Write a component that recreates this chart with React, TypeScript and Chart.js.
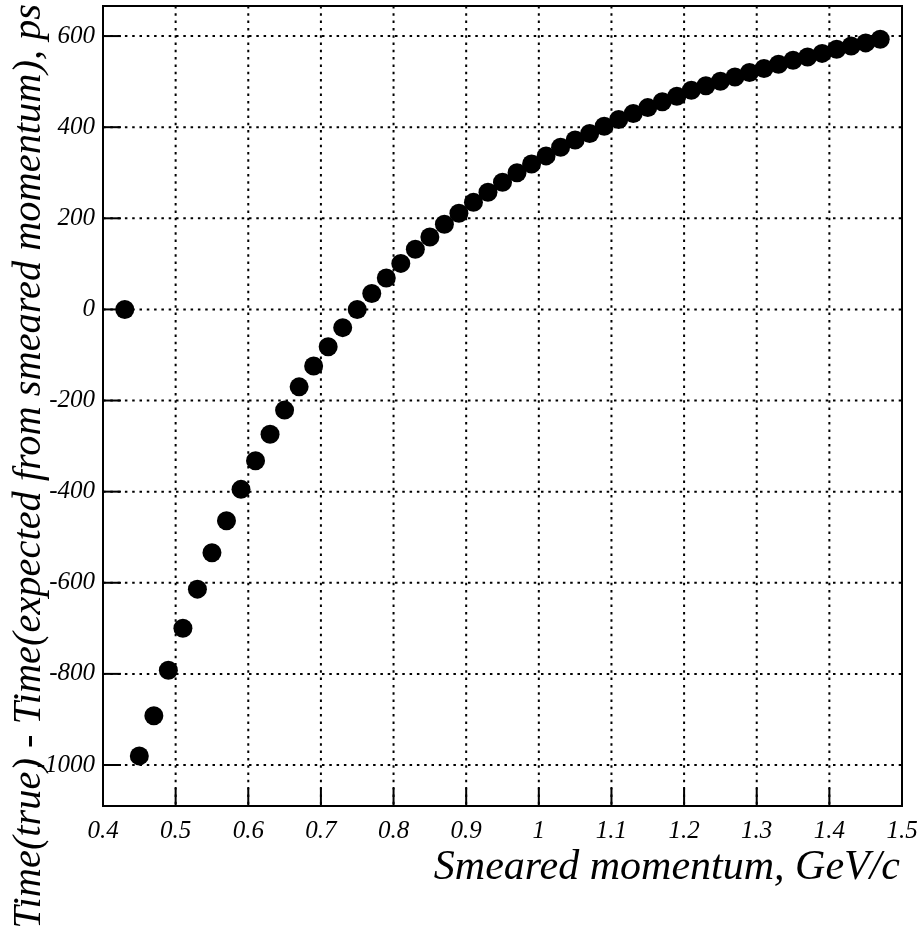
import React, { useEffect, useRef } from "react";
import { Chart, registerables } from "chart.js";

Chart.register(...registerables);

// Smeared momentum, GeV/c
const momentum = [
  0.43, 0.45, 0.47, 0.49, 0.51, 0.53, 0.55, 0.57, 0.59, 0.61,
  0.63, 0.65, 0.67, 0.69, 0.71, 0.73, 0.75, 0.77, 0.79, 0.81,
  0.83, 0.85, 0.87, 0.89, 0.91, 0.93, 0.95, 0.97, 0.99, 1.01,
  1.03, 1.05, 1.07, 1.09, 1.11, 1.13, 1.15, 1.17, 1.19, 1.21,
  1.23, 1.25, 1.27, 1.29, 1.31, 1.33, 1.35, 1.37, 1.39, 1.41,
  1.43, 1.45, 1.47,
];

// Time(true) - Time(expected), ps
const timeDiff = [
  0, -980, -892, -792, -700, -614, -534, -464, -395, -332,
  -274, -221, -170, -124, -82, -40, 0, 35, 69, 101,
  132, 159, 187, 211, 235, 257, 279, 300, 319, 337,
  356, 372, 386, 402, 417, 430, 443, 456, 468, 481,
  491, 501, 510, 520, 529, 538, 547, 554, 562, 571,
  578, 585, 593,
];

const xTicks = [0.4, 0.5, 0.6, 0.7, 0.8, 0.9, 1.0, 1.1, 1.2, 1.3, 1.4, 1.5];
const xTickLabels = ["0.4", "0.5", "0.6", "0.7", "0.8", "0.9", "1", "1.1", "1.2", "1.3", "1.4", "1.5"];
const yTicks = [-1000, -800, -600, -400, -200, 0, 200, 400, 600];
const yTickLabels = ["-1000", "-800", "-600", "-400", "-200", "0", "200", "400", "600"];

const xTitle = "Smeared momentum, GeV/c";
const yTitle = "Time(true) - Time(expected from smeared momentum), ps";

const FONT = '"Liberation Serif", "Times New Roman", serif';

const rootFramePlugin = {
  id: "rootFrame",
  beforeDatasetsDraw(chart: any) {
    const { ctx, chartArea, scales } = chart;
    const { left, right, top, bottom } = chartArea;
    const xs = scales.x;
    const ys = scales.y;
    ctx.save();
    ctx.strokeStyle = "#000";
    ctx.lineWidth = 2;
    ctx.setLineDash([2.5, 4.8]);
    for (const v of xTicks) {
      const px = xs.getPixelForValue(v);
      if (px <= left + 1 || px >= right - 1) continue;
      ctx.beginPath();
      ctx.moveTo(px, top);
      ctx.lineTo(px, bottom);
      ctx.stroke();
    }
    for (const v of yTicks) {
      const py = ys.getPixelForValue(v);
      if (py <= top + 1 || py >= bottom - 1) continue;
      ctx.beginPath();
      ctx.moveTo(left, py);
      ctx.lineTo(right, py);
      ctx.stroke();
    }
    ctx.setLineDash([]);
    for (const v of xTicks) {
      const px = xs.getPixelForValue(v);
      ctx.beginPath();
      ctx.moveTo(px, bottom);
      ctx.lineTo(px, bottom - 18);
      ctx.stroke();
    }
    for (const v of yTicks) {
      const py = ys.getPixelForValue(v);
      ctx.beginPath();
      ctx.moveTo(left, py);
      ctx.lineTo(left + 18, py);
      ctx.stroke();
    }
    ctx.restore();
  },
  afterDatasetsDraw(chart: any) {
    const { ctx, chartArea } = chart;
    const { left, right, top, bottom } = chartArea;
    ctx.save();
    ctx.strokeStyle = "#000";
    ctx.lineWidth = 2;
    ctx.strokeRect(left, top, right - left, bottom - top);
    ctx.restore();
  },
  afterDraw(chart: any) {
    const { ctx, chartArea } = chart;
    ctx.save();
    ctx.fillStyle = "#000";
    ctx.textAlign = "right";
    ctx.textBaseline = "alphabetic";
    ctx.font = `italic 42px ${FONT}`;
    ctx.fillText(xTitle, chartArea.right - 2, 879);
    ctx.font = `italic 40.4px ${FONT}`;
    ctx.translate(40, 4);
    ctx.rotate(-Math.PI / 2);
    ctx.fillText(yTitle, 0, 0);
    ctx.restore();
  },
};

export default function App() {
  const canvasRef = useRef<HTMLCanvasElement | null>(null);

  useEffect(() => {
    if (!canvasRef.current) return;
    const chart = new Chart(canvasRef.current, {
      type: "scatter",
      data: {
        datasets: [
          {
            data: momentum.map((m, i) => ({ x: m, y: timeDiff[i] })),
            pointRadius: 9.5,
            pointHoverRadius: 9.5,
            pointBackgroundColor: "#000",
            pointBorderWidth: 0,
            showLine: false,
            clip: false,
          },
        ],
      },
      options: {
        animation: false,
        responsive: false,
        events: [],
        layout: { autoPadding: false, padding: { top: 6, right: 18, left: 0, bottom: 0 } },
        plugins: {
          legend: { display: false },
          tooltip: { enabled: false },
        },
        scales: {
          x: {
            type: "linear",
            min: 0.4,
            max: 1.5,
            grid: { display: false, drawTicks: false },
            border: { display: false },
            afterBuildTicks: (s: any) => {
              s.ticks = xTicks.map((v) => ({ value: v }));
            },
            afterFit: (s: any) => {
              s.height = 123;
              s.paddingLeft = 0;
              s.paddingRight = 0;
            },
            ticks: {
              autoSkip: false,
              maxRotation: 0,
              minRotation: 0,
              padding: 10,
              color: "#000",
              font: { family: FONT, size: 25, style: "italic" },
              callback: (_v: any, i: number) => xTickLabels[i],
            },
          },
          y: {
            type: "linear",
            min: -1090,
            max: 666,
            grid: { display: false, drawTicks: false },
            border: { display: false },
            afterBuildTicks: (s: any) => {
              s.ticks = yTicks.map((v) => ({ value: v }));
            },
            afterFit: (s: any) => {
              s.width = 103;
              s.paddingTop = 0;
              s.paddingBottom = 0;
            },
            ticks: {
              autoSkip: false,
              padding: 8,
              color: "#000",
              font: { family: FONT, size: 25, style: "italic" },
              callback: (_v: any, i: number) => yTickLabels[i],
            },
          },
        },
      },
      plugins: [rootFramePlugin],
    } as any);
    return () => chart.destroy();
  }, []);

  return (
    <div style={{ position: "absolute", left: 0, top: 0, width: 920, height: 929, background: "#fff" }}>
      <canvas ref={canvasRef} width={920} height={929} style={{ width: 920, height: 929, display: "block" }} />
    </div>
  );
}
